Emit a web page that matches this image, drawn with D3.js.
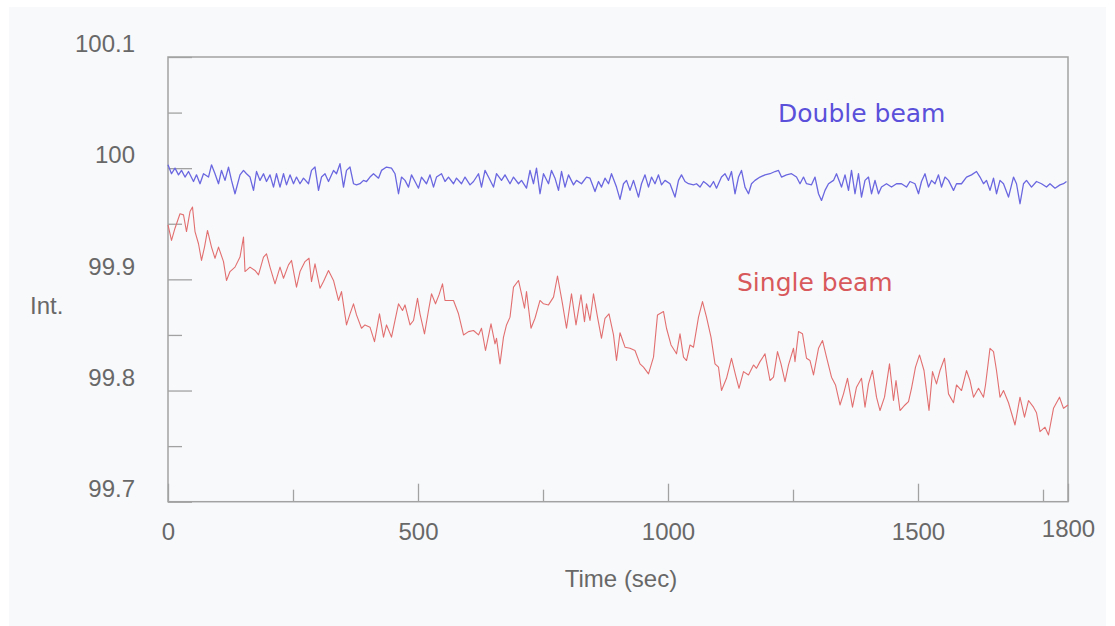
<!DOCTYPE html>
<html><head><meta charset="utf-8">
<script src="https://cdn.jsdelivr.net/npm/d3@7"></script>
<style>
body{margin:0;background:#fff;}
svg text{font-family:"Liberation Sans",Arial,sans-serif;}
</style>
</head><body>
<svg id="chart" width="1115" height="626"></svg>
<script>
// ---- data ----
const timeSingle = [
  0,7,14,24,31,37,44,49,54,61, 67,73,79,87,94,101,111,117,124,134,
  144,151,154,164,174,181,191,197,204,214, 224,231,241,247,257,264,274,282,287,294,
  304,311,321,331,341,347,357,364,371,377, 387,394,404,413,423,431,437,447,454,461,
  469,474,484,491,499,504,513,521,527,535, 542,549,554,564,571,581,591,601,
  611,621,627,635,646,654,657,664,671,677, 684,691,701,707,713,717,726,734,744,751,
  761,771,779,789,797,807,816,826,833,837, 844,851,859,867,874,882,891,897,904,914,
  924,934,944,951,961,971,979,991,997,1006, 1013,1017,1024,1031,1037,1044,1051,1061,1069,1077,
  1086,1094,1101,1107,1117,1127,1135,1142,1151,1161, 1171,1177,1184,1194,
  1204,1211,1219,1226,1234,1241,1251,1254,1261,1269, 1277,1284,1291,1301,1309,1317,1327,1335,1344,1351,
  1359,1369,1377,1387,1394,1401,1409,1417,1424,1433, 1443,1451,1456,1464,1474,1481,1487,1495,1503,1512,
  1522,1529,1537,1544,1553,1561,1571,1577,1587,1597, 1604,1611,1621,1631,1635,1644,1651,1657,1664,1671,
  1681,1694,1704,1713,1721,1731,1737,1744,1754,1761, 1771,1783,1791,1800
];
const single = [
  99.949,99.935,99.946,99.959,99.958,99.943,99.961,99.965,99.943,99.932, 99.917,99.929,99.944,99.929,99.919,99.929,99.916,99.899,99.907,99.911,
  99.920,99.938,99.907,99.911,99.908,99.904,99.920,99.923,99.911,99.896, 99.911,99.901,99.913,99.917,99.893,99.907,99.916,99.919,99.898,99.914,
  99.892,99.898,99.908,99.899,99.881,99.889,99.859,99.869,99.878,99.868, 99.856,99.859,99.857,99.844,99.869,99.848,99.859,99.848,99.863,99.878,
  99.872,99.877,99.859,99.863,99.883,99.869,99.851,99.872,99.887,99.878, 99.886,99.896,99.881,99.881,99.881,99.869,99.850,99.853,
  99.854,99.850,99.856,99.836,99.860,99.842,99.847,99.824,99.848,99.859, 99.866,99.893,99.899,99.887,99.874,99.889,99.856,99.865,99.881,99.878,
  99.877,99.884,99.903,99.878,99.856,99.887,99.859,99.886,99.862,99.878, 99.863,99.887,99.866,99.847,99.865,99.869,99.850,99.827,99.852,99.839,
  99.838,99.836,99.824,99.821,99.815,99.830,99.868,99.871,99.856,99.841, 99.836,99.833,99.851,99.830,99.827,99.841,99.839,99.866,99.880,99.866,
  99.848,99.824,99.821,99.800,99.811,99.829,99.814,99.802,99.817,99.814, 99.823,99.820,99.826,99.833,
  99.809,99.812,99.835,99.824,99.808,99.823,99.838,99.826,99.853,99.851, 99.829,99.827,99.814,99.838,99.845,99.830,99.812,99.805,99.787,99.797,
  99.811,99.785,99.803,99.811,99.785,99.806,99.818,99.794,99.782,99.794, 99.824,99.791,99.809,99.782,99.787,99.790,99.802,99.821,99.832,99.818,
  99.782,99.817,99.806,99.818,99.829,99.797,99.789,99.805,99.800,99.818, 99.809,99.794,99.802,99.794,99.805,99.838,99.835,99.818,99.794,99.800,
  99.789,99.769,99.794,99.776,99.791,99.785,99.780,99.763,99.767,99.760, 99.784,99.794,99.784,99.787
];
const timeDouble = [
  0,7,14,21,27,34,41,51,57,64, 71,81,87,94,101,107,114,121,127,134,
  144,151,157,164,171,177,184,191,197,204, 211,217,224,231,237,244,251,257,264,271,
  281,287,294,301,307,314,321,331,337,344, 351,357,364,371,377,384,391,397,404,411,
  421,427,437,447,454,461,467,474,481,487, 494,501,507,517,524,531,537,547,554,561,
  571,577,587,594,604,611,621,627,634,641, 651,657,667,674,684,691,701,707,717,724,
  731,737,744,751,761,767,774,781,787,794, 801,811,817,827,837,844,854,861,867,874,
  881,887,897,904,911,917,924,931,941,947, 954,961,967,974,981,987,994,1004,1014,1021,
  1027,1034,1041,1051,1057,1064,1071,1077,1084,1091, 1097,1107,1114,1121,1127,1134,1141,1147,1154,1161,
  1167,1174,1184,1194,1204,1214,1221,1227,1237,1247, 1257,1264,1271,1277,1287,1294,1301,1307,1314,1321,
  1331,1337,1347,1354,1361,1367,1374,1381,1387,1394, 1401,1407,1414,1421,1427,1437,1447,1457,1467,1477,
  1484,1494,1501,1507,1514,1521,1527,1534,1541,1547, 1554,1561,1571,1577,1587,1597,1607,1617,1624,1631,
  1637,1644,1651,1657,1664,1671,1681,1691,1697,1704, 1711,1717,1727,1737,1747,1757,1764,1774,1784,1791,
  1797
];
const doubleBeam = [
  100.003,99.995,100.000,99.994,99.998,99.992,99.997,99.988,99.994,99.986, 99.995,99.992,100.003,99.995,99.986,99.998,99.989,100.001,99.989,99.977,
  99.994,99.998,99.995,99.992,99.980,99.997,99.989,99.995,99.988,99.994, 99.983,99.995,99.983,99.995,99.985,99.994,99.986,99.992,99.986,99.991,
  99.986,99.998,100.001,99.980,99.992,99.995,99.988,99.998,99.995,100.004, 99.983,99.998,100.001,99.986,99.985,99.986,99.989,99.988,99.992,99.995,
  99.991,99.998,100.001,100.000,99.995,99.977,99.992,99.989,99.983,99.994, 99.988,99.982,99.992,99.986,99.994,99.983,99.992,99.995,99.988,99.992,
  99.986,99.991,99.986,99.992,99.985,99.988,99.995,99.983,99.998,99.992, 99.983,99.995,99.989,99.994,99.986,99.992,99.986,99.989,99.982,99.998,
  99.986,100.000,99.977,99.995,99.986,99.998,99.991,99.980,99.997,99.983, 99.994,99.985,99.989,99.986,99.992,99.991,99.979,99.988,99.983,99.991,
  99.986,99.995,99.983,99.972,99.986,99.989,99.980,99.989,99.974,99.986, 99.994,99.983,99.992,99.986,99.994,99.985,99.989,99.986,99.974,99.989,
  99.994,99.988,99.986,99.985,99.986,99.983,99.988,99.986,99.983,99.988, 99.982,99.992,99.995,99.989,99.997,99.977,99.992,99.998,99.983,99.977,
  99.986,99.989,99.992,99.994,99.995,99.997,99.998,99.992,99.994,99.995, 99.992,99.986,99.992,99.986,99.985,99.992,99.977,99.971,99.980,99.986,
  99.989,99.995,99.983,99.994,99.980,99.998,99.977,99.995,99.974,99.989, 99.992,99.977,99.989,99.977,99.983,99.986,99.983,99.986,99.986,99.983,
  99.988,99.986,99.977,99.988,99.995,99.983,99.989,99.986,99.994,99.983, 99.992,99.989,99.980,99.986,99.986,99.992,99.994,99.997,99.992,99.986,
  99.989,99.980,99.991,99.977,99.989,99.986,99.974,99.992,99.986,99.968, 99.986,99.989,99.983,99.988,99.986,99.983,99.986,99.982,99.985,99.986,
  99.988
];
const yMajorTicks = [100.1, 100, 99.9, 99.8, 99.7];
const yMinorTicks = [100.05, 99.95, 99.85, 99.75];
const xMajorTicks = [0, 500, 1000, 1500, 1800];
const xMinorTicks = [250, 750, 1250, 1750];
const seriesNames = ["Double beam", "Single beam"];

// ---- layout ----
const svg = d3.select("#chart");
const pL = 168, pR = 1068, pT = 57, pB = 501.7;
const axisColor = "#a2a2a2", textColor = "#686868";

svg.append("rect").attr("x", 0).attr("y", 0).attr("width", 1115).attr("height", 626).attr("fill", "#ffffff");
svg.append("rect").attr("x", 9).attr("y", 7).attr("width", 1097).attr("height", 619).attr("fill", "#f8f9fb");

const x = d3.scaleLinear().domain([0, 1800]).range([pL, pR]);
const y = d3.scaleLinear().domain([99.7, 100.1]).range([pB, pT]);

const fmt = d => String(+d.toFixed(2));
const yMaj = svg.append("g").attr("transform", `translate(${pL},0)`)
  .call(d3.axisLeft(y).tickValues(yMajorTicks).tickSizeInner(-24).tickSizeOuter(0).tickPadding(33).tickFormat(fmt));
const yMin = svg.append("g").attr("transform", `translate(${pL},0)`)
  .call(d3.axisLeft(y).tickValues(yMinorTicks).tickSizeInner(-14).tickSizeOuter(0).tickFormat(""));
const xMaj = svg.append("g").attr("transform", `translate(0,${pB})`)
  .call(d3.axisBottom(x).tickValues(xMajorTicks).tickSizeInner(-18).tickSizeOuter(0).tickPadding(21).tickFormat(d3.format("d")));
const xMin = svg.append("g").attr("transform", `translate(0,${pB})`)
  .call(d3.axisBottom(x).tickValues(xMinorTicks).tickSizeInner(-12).tickSizeOuter(0).tickFormat(""));

[yMaj, yMin, xMaj, xMin].forEach(g => {
  g.select(".domain").remove();
  g.selectAll(".tick line").attr("stroke", axisColor).attr("stroke-width", 1.3);
  g.selectAll(".tick text").attr("fill", textColor).attr("font-size", 24)
    .attr("font-family", "'Liberation Sans', Arial, sans-serif");
});
yMaj.selectAll(".tick text").attr("y", -13);
xMaj.selectAll(".tick text").filter(d => d === 1800).attr("y", 18);

svg.append("rect").attr("x", pL).attr("y", pT).attr("width", pR - pL).attr("height", pB - pT)
  .attr("fill", "none").attr("stroke", axisColor).attr("stroke-width", 1.5);

const line = d3.line().x(d => x(d[0])).y(d => y(d[1]));
svg.append("path").datum(d3.zip(timeDouble, doubleBeam))
  .attr("fill", "none").attr("stroke", "#6a67e0").attr("stroke-width", 1.3).attr("stroke-linejoin", "round")
  .attr("d", line);
svg.append("path").datum(d3.zip(timeSingle, single))
  .attr("fill", "none").attr("stroke", "#e26f70").attr("stroke-width", 1.1).attr("stroke-linejoin", "round")
  .attr("d", line);

svg.append("text").attr("x", 778).attr("y", 122).attr("fill", "#5a50da")
  .attr("font-size", 25).style("font-family", "'DejaVu Sans', sans-serif").text(seriesNames[0]);
svg.append("text").attr("x", 737).attr("y", 291).attr("fill", "#d8595b")
  .attr("font-size", 25).style("font-family", "'DejaVu Sans', sans-serif").text(seriesNames[1]);

svg.append("text").attr("x", (pL + pR) / 2 + 3).attr("y", 587).attr("text-anchor", "middle")
  .attr("fill", textColor).attr("font-size", 24).text("Time (sec)");
svg.append("text").attr("x", 30).attr("y", 314).attr("fill", textColor).attr("font-size", 24).text("Int.");
</script>
</body></html>
